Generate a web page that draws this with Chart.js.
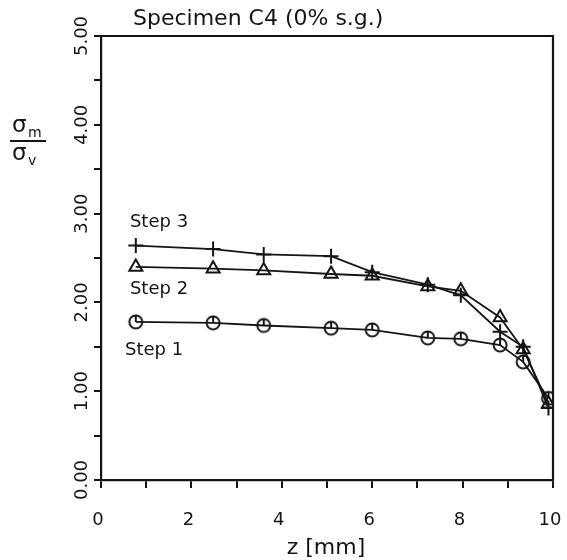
<!DOCTYPE html>
<html><head><meta charset="utf-8">
<script src="https://cdn.jsdelivr.net/npm/chart.js@4.4.0/dist/chart.umd.min.js"></script>
<style>html,body{margin:0;padding:0;background:#fff}</style>
</head><body>
<canvas id="c" width="567" height="560"></canvas>
<script>
// ---- data ----
const zValues = [0.77, 2.48, 3.60, 5.09, 6.00, 7.23, 7.96, 8.83, 9.34, 9.90];
const step1 = [1.78, 1.77, 1.74, 1.71, 1.69, 1.60, 1.59, 1.52, 1.33, 0.92];
const step2 = [2.40, 2.38, 2.36, 2.32, 2.30, 2.18, 2.13, 1.83, 1.47, 0.86];
const step3 = [2.64, 2.60, 2.54, 2.52, 2.34, 2.20, 2.08, 1.67, 1.50, 0.81];
const xTickLabels = [0, 2, 4, 6, 8, 10];
const yTickLabels = [0, 1, 2, 3, 4, 5];
const stepLabels = [
  {text: 'Step 3', z: 0.64, v: 2.90},
  {text: 'Step 2', z: 0.64, v: 2.15},
  {text: 'Step 1', z: 0.53, v: 1.46}
];
const titleText = 'Specimen C4 (0% s.g.)';
const xTitle = 'z [mm]';

const INK = '#151515';
const FONT = '"DejaVu Sans", sans-serif';

function circleMarker() {
  const c = document.createElement('canvas');
  c.width = 18; c.height = 18;
  const g = c.getContext('2d');
  g.strokeStyle = INK; g.lineWidth = 2;
  g.beginPath(); g.arc(9, 9, 6.5, 0, Math.PI * 2); g.stroke();
  g.beginPath(); g.moveTo(9, 2.5); g.lineTo(9, 9); g.stroke();
  return c;
}

const toPts = arr => arr.map((v, i) => ({x: zValues[i], y: v}));

const decor = {
  id: 'decor',
  afterDraw(chart) {
    const {ctx, chartArea: a, scales: {x, y}} = chart;
    ctx.save();
    ctx.strokeStyle = INK; ctx.lineWidth = 2.2;
    ctx.beginPath();
    ctx.moveTo(a.left, a.top); ctx.lineTo(a.right, a.top); ctx.lineTo(a.right, a.bottom);
    ctx.stroke();
    ctx.fillStyle = INK;
    // y tick labels (rotated)
    ctx.font = '18px ' + FONT;
    ctx.textAlign = 'center'; ctx.textBaseline = 'middle';
    yTickLabels.forEach(v => {
      ctx.save();
      ctx.translate(a.left - 19, y.getPixelForValue(v));
      ctx.rotate(-Math.PI / 2);
      ctx.fillText(v.toFixed(2), 0, 0);
      ctx.restore();
    });
    // x tick labels
    ctx.font = '18px ' + FONT;
    xTickLabels.forEach(v => {
      ctx.fillText(String(v), x.getPixelForValue(v) - 3, a.bottom + 40);
    });
    // x title
    ctx.font = '22px ' + FONT;
    ctx.fillText(xTitle, (a.left + a.right) / 2 - 1, a.bottom + 68);
    // y title as fraction
    ctx.font = '23px ' + FONT;
    ctx.textAlign = 'left';
    ctx.fillText('σ', 12, 126);
    ctx.font = '14px ' + FONT;
    ctx.fillText('m', 28, 133);
    ctx.font = '23px ' + FONT;
    ctx.fillText('σ', 12, 154);
    ctx.font = '14px ' + FONT;
    ctx.fillText('v', 28, 161);
    ctx.lineWidth = 2;
    ctx.beginPath(); ctx.moveTo(10, 141); ctx.lineTo(46, 141); ctx.stroke();
    // title
    ctx.font = '22px ' + FONT;
    ctx.textAlign = 'left';
    ctx.fillText(titleText, 133, 19);
    // step labels
    ctx.font = '18px ' + FONT;
    stepLabels.forEach(s => {
      ctx.fillText(s.text, x.getPixelForValue(s.z), y.getPixelForValue(s.v));
    });
    ctx.restore();
  }
};

const common = {borderColor: INK, borderWidth: 1.8, pointBorderColor: INK,
  pointBackgroundColor: 'rgba(0,0,0,0)', pointBorderWidth: 2, showLine: true, tension: 0};

new Chart(document.getElementById('c'), {
  type: 'scatter',
  data: {
    datasets: [
      Object.assign({label: 'Step 1', data: toPts(step1), pointStyle: circleMarker(), pointRadius: 7}, common),
      Object.assign({label: 'Step 2', data: toPts(step2), pointStyle: 'triangle', pointRadius: 7.5}, common),
      Object.assign({label: 'Step 3', data: toPts(step3), pointStyle: 'cross', pointRadius: 7.5}, common)
    ]
  },
  options: {
    responsive: false,
    animation: false,
    devicePixelRatio: 1,
    layout: {padding: {left: 94, right: 14, top: 36, bottom: 72}},
    plugins: {legend: {display: false}, tooltip: {enabled: false}},
    scales: {
      x: {type: 'linear', min: 0, max: 10,
        ticks: {display: false, stepSize: 1},
        grid: {drawOnChartArea: false, drawTicks: true, tickLength: 8, color: INK, lineWidth: 2},
        border: {display: true, color: INK, width: 2.2}},
      y: {type: 'linear', min: 0, max: 5,
        ticks: {display: false, stepSize: 0.5},
        grid: {drawOnChartArea: false, drawTicks: true, tickLength: 7, color: INK, lineWidth: 2},
        border: {display: true, color: INK, width: 2.2}}
    }
  },
  plugins: [decor]
});
</script>
</body></html>
